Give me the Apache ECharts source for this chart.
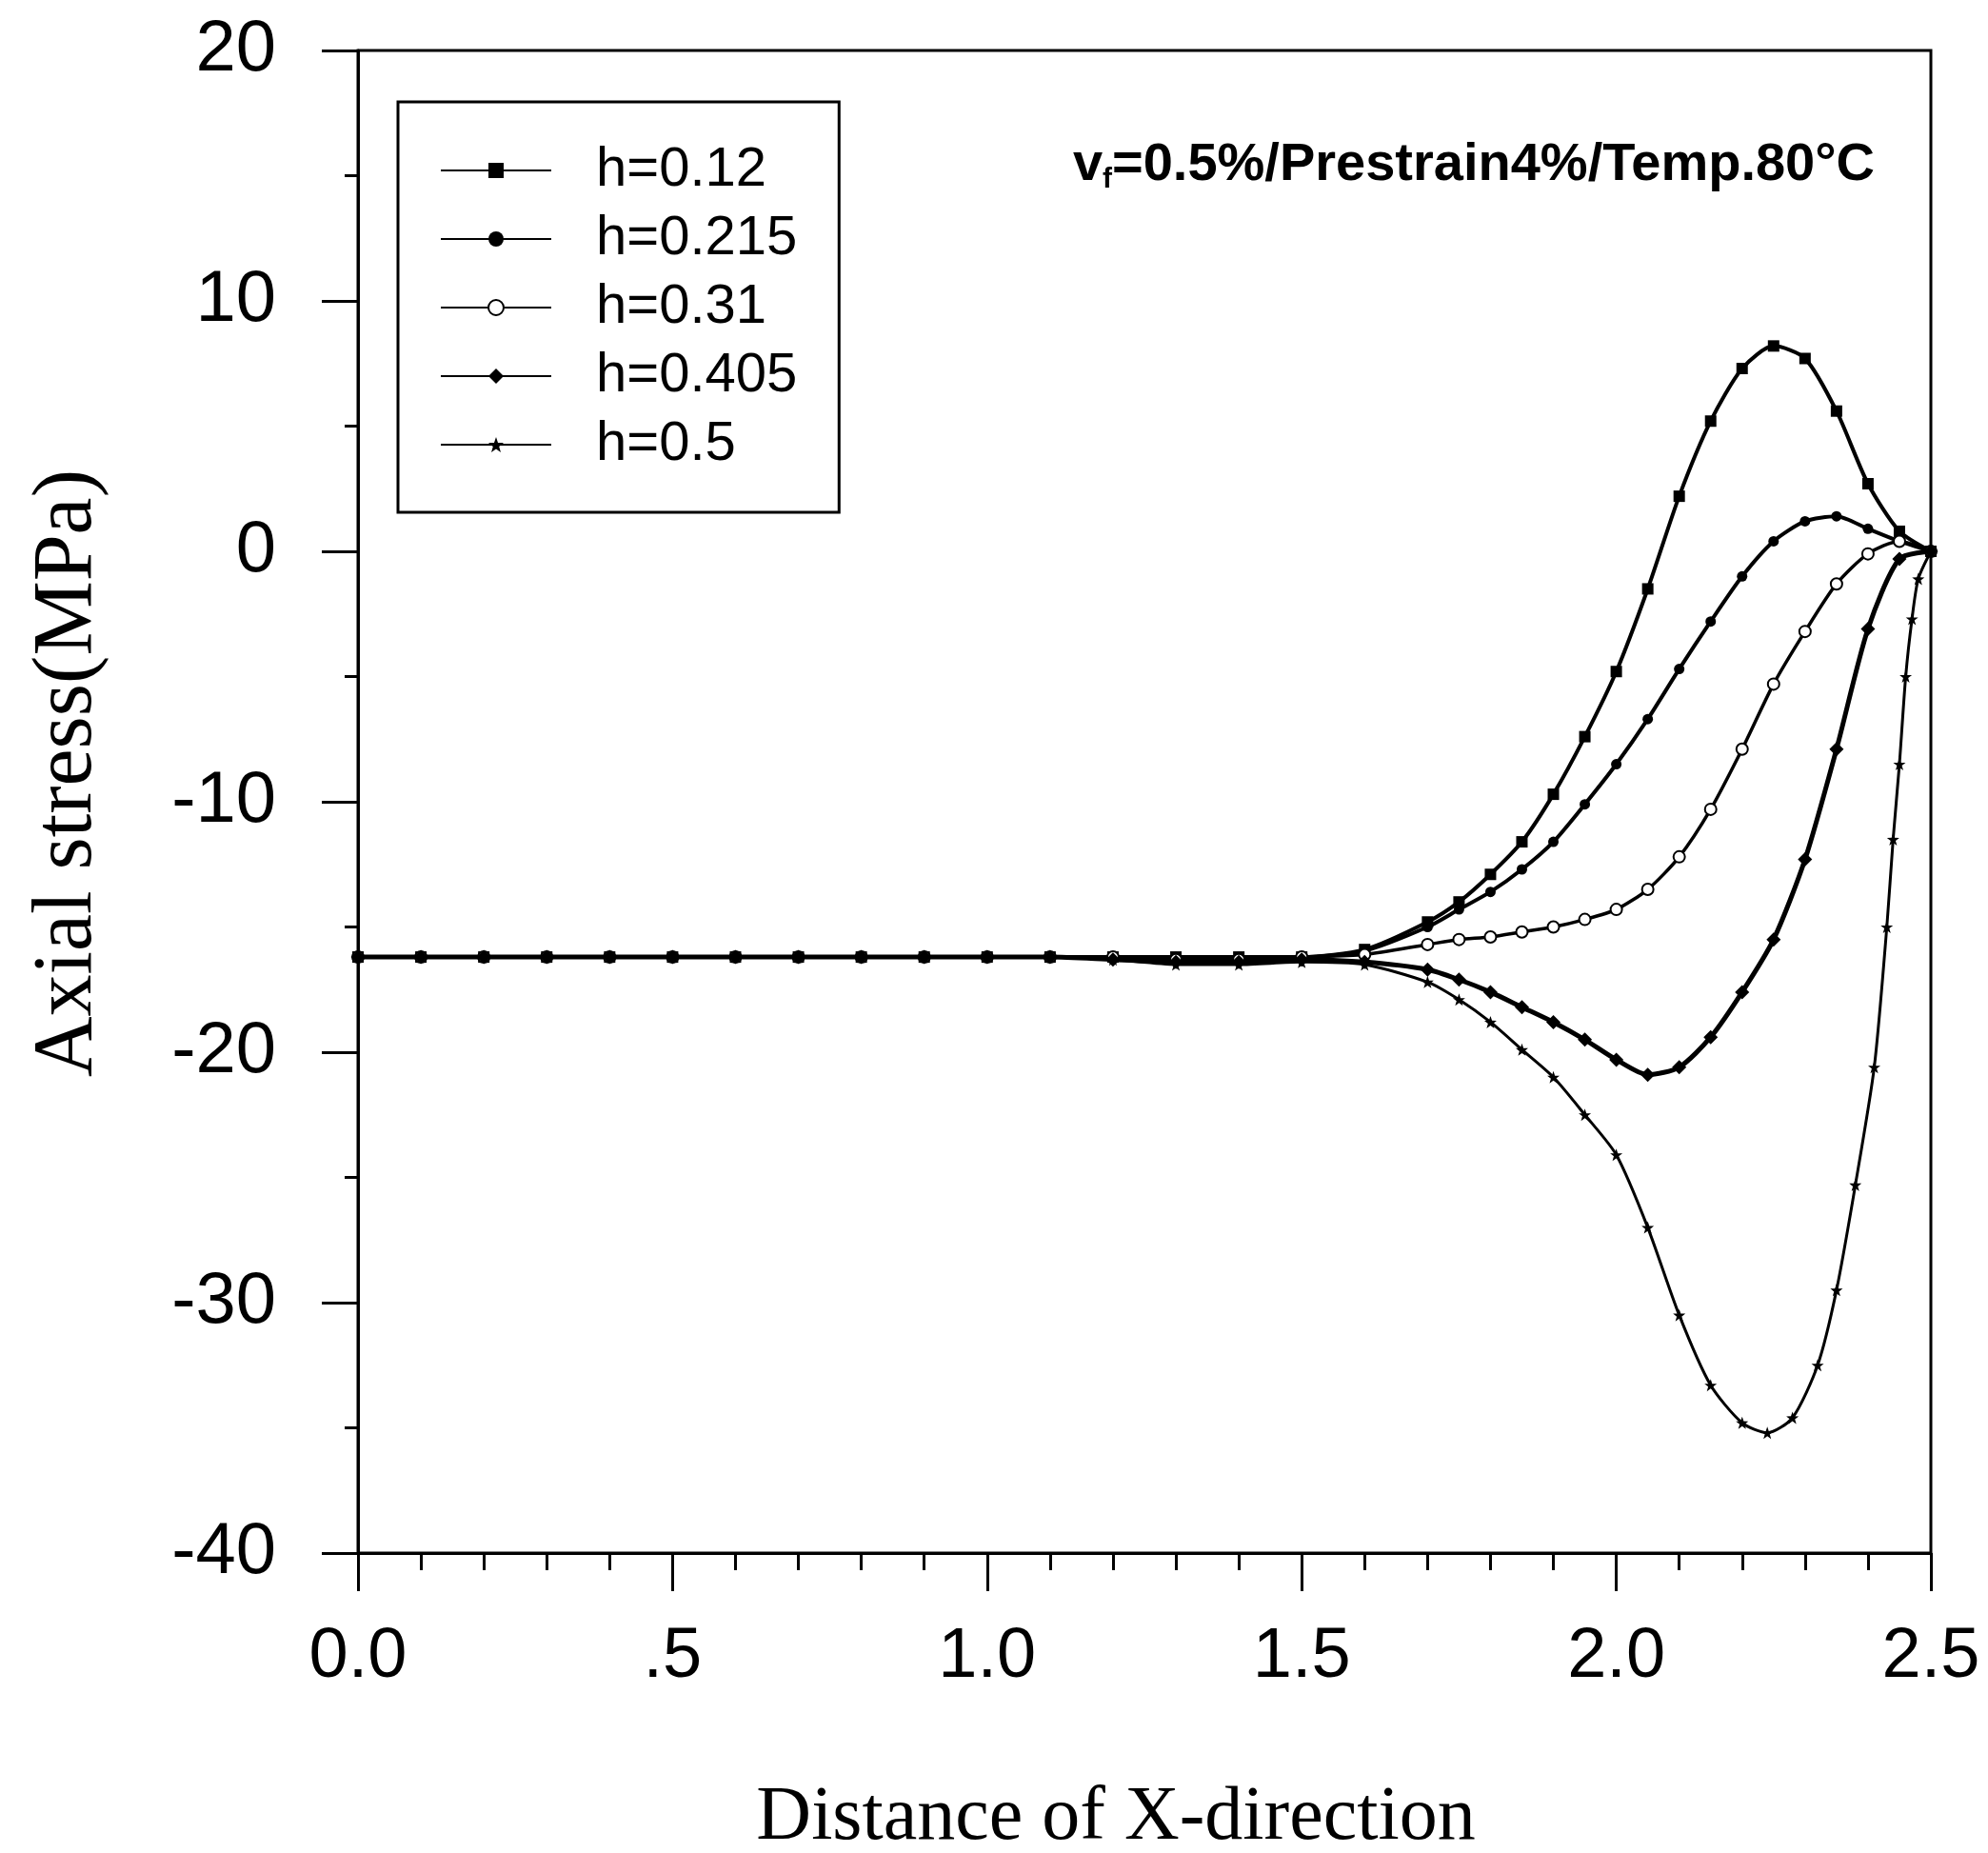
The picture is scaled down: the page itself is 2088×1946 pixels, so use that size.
<!DOCTYPE html>
<html>
<head>
<meta charset="utf-8">
<script src="https://cdn.jsdelivr.net/npm/echarts@6/dist/echarts.min.js"></script>
<style>
  html, body { margin: 0; padding: 0; background: #fff; }
  #chart { width: 2088px; height: 1946px; }
</style>
</head>
<body>
<div id="chart"></div>
<script>
// ---- data ----
const seriesNames = ['h=0.12', 'h=0.215', 'h=0.31', 'h=0.405', 'h=0.5'];

const xTickLabels = ['0.0', '.5', '1.0', '1.5', '2.0', '2.5'];
const yTickValues = [-40, -30, -20, -10, 0, 10, 20];

const xA = [0,0.1,0.2,0.3,0.4,0.5,0.6,0.7,0.8,0.9,1.0,1.1,1.2,1.3,1.4,1.5,1.6,1.7,1.75,1.8,1.85,1.9,1.95,2.0,2.05,2.1,2.15,2.2,2.25,2.3,2.35,2.4,2.45,2.5];
const yA = [-16.2,-16.2,-16.2,-16.2,-16.2,-16.2,-16.2,-16.2,-16.2,-16.2,-16.2,-16.2,-16.2,-16.2,-16.2,-16.2,-15.9,-14.8,-14.0,-12.9,-11.6,-9.7,-7.4,-4.8,-1.5,2.2,5.2,7.3,8.2,7.7,5.6,2.7,0.8,0];

const xB = [0,0.1,0.2,0.3,0.4,0.5,0.6,0.7,0.8,0.9,1.0,1.1,1.2,1.3,1.4,1.5,1.6,1.7,1.75,1.8,1.85,1.9,1.95,2.0,2.05,2.1,2.15,2.2,2.25,2.3,2.35,2.4,2.45,2.5];
const yB = [-16.2,-16.2,-16.2,-16.2,-16.2,-16.2,-16.2,-16.2,-16.2,-16.2,-16.2,-16.2,-16.2,-16.2,-16.2,-16.2,-15.95,-15.0,-14.3,-13.6,-12.7,-11.6,-10.1,-8.5,-6.7,-4.7,-2.8,-1.0,0.4,1.2,1.4,0.9,0.4,0];

const xC = [0,0.1,0.2,0.3,0.4,0.5,0.6,0.7,0.8,0.9,1.0,1.1,1.2,1.3,1.4,1.5,1.6,1.7,1.75,1.8,1.85,1.9,1.95,2.0,2.05,2.1,2.15,2.2,2.25,2.3,2.35,2.4,2.45,2.5];
const yC = [-16.2,-16.2,-16.2,-16.2,-16.2,-16.2,-16.2,-16.2,-16.2,-16.2,-16.2,-16.2,-16.2,-16.3,-16.3,-16.2,-16.1,-15.7,-15.5,-15.4,-15.2,-15.0,-14.7,-14.3,-13.5,-12.2,-10.3,-7.9,-5.3,-3.2,-1.3,-0.1,0.4,0];

const xD = [0,0.1,0.2,0.3,0.4,0.5,0.6,0.7,0.8,0.9,1.0,1.1,1.2,1.3,1.4,1.5,1.6,1.7,1.75,1.8,1.85,1.9,1.95,2.0,2.05,2.1,2.15,2.2,2.25,2.3,2.35,2.4,2.45,2.5];
const yD = [-16.2,-16.2,-16.2,-16.2,-16.2,-16.2,-16.2,-16.2,-16.2,-16.2,-16.2,-16.2,-16.3,-16.4,-16.4,-16.3,-16.4,-16.7,-17.1,-17.6,-18.2,-18.8,-19.5,-20.3,-20.9,-20.6,-19.4,-17.6,-15.5,-12.3,-7.9,-3.1,-0.3,0];

const xE = [0,0.1,0.2,0.3,0.4,0.5,0.6,0.7,0.8,0.9,1.0,1.1,1.2,1.3,1.4,1.5,1.6,1.7,1.75,1.8,1.85,1.9,1.95,2.0,2.05,2.1,2.15,2.2,2.24,2.28,2.32,2.35,2.38,2.41,2.43,2.44,2.45,2.46,2.47,2.48,2.5];
const yE = [-16.2,-16.2,-16.2,-16.2,-16.2,-16.2,-16.2,-16.2,-16.2,-16.2,-16.2,-16.2,-16.3,-16.5,-16.5,-16.4,-16.5,-17.2,-17.9,-18.8,-19.9,-21.0,-22.5,-24.1,-27.0,-30.5,-33.3,-34.8,-35.2,-34.6,-32.5,-29.5,-25.3,-20.6,-15.0,-11.5,-8.5,-5.0,-2.7,-1.1,0];

const annotationMain = '=0.5%/Prestrain4%/Temp.80°C';
// ---------------------------------------

function pairs(xs, ys) { return xs.map((x, i) => [x, ys[i]]); }

const starPath = 'path://M0,-10 L2.4,-3.2 L9.5,-3.1 L3.8,1.2 L5.9,8.1 L0,4 L-5.9,8.1 L-3.8,1.2 L-9.5,-3.1 L-2.4,-3.2 Z';

const chart = echarts.init(document.getElementById('chart'), null, { renderer: 'canvas' });

const lineCommon = { type: 'line', smooth: 0.25, color: '#000' };

const option = {
  backgroundColor: '#fff',
  animation: false,
  grid: {
    left: 376, right: 60, top: 53, bottom: 315,
    show: true, borderColor: '#000', borderWidth: 3, backgroundColor: 'transparent'
  },
  legend: {
    orient: 'vertical',
    left: 418, top: 107,
    padding: [43, 44, 42, 44],
    borderColor: '#000', borderWidth: 3,
    itemWidth: 116, itemHeight: 20, itemGap: 14,
    textStyle: { fontFamily: 'Liberation Sans', fontSize: 58, color: '#000', lineHeight: 58, padding: [0, 0, 0, 42] },
    data: seriesNames
  },
  xAxis: {
    type: 'value', min: 0, max: 2.5, interval: 0.5,
    axisLine: { show: true, onZero: false, lineStyle: { color: '#000', width: 3 } },
    axisTick: { show: true, inside: false, length: 40, lineStyle: { color: '#000', width: 3 } },
    minorTick: { show: true, splitNumber: 5, length: 18, lineStyle: { color: '#000', width: 3 } },
    splitLine: { show: false },
    axisLabel: {
      margin: 73, color: '#000', fontFamily: 'Liberation Sans', fontSize: 74,
      formatter: v => xTickLabels[Math.round(v / 0.5)]
    }
  },
  yAxis: {
    type: 'value', min: -40, max: 20, interval: 10,
    axisLine: { show: true, onZero: false, lineStyle: { color: '#000', width: 3 } },
    axisTick: { show: true, inside: false, length: 38, lineStyle: { color: '#000', width: 3 } },
    minorTick: { show: true, splitNumber: 2, length: 14, lineStyle: { color: '#000', width: 3 } },
    splitLine: { show: false },
    axisLabel: {
      margin: 86, color: '#000', fontFamily: 'Liberation Sans', fontSize: 76,
      formatter: v => (yTickValues.indexOf(v) >= 0 ? String(v) : '')
    }
  },
  graphic: [
    { type: 'text', left: 1127, top: 146, style: { text: 'v', font: 'bold 56px "Liberation Sans"', fill: '#000' } },
    { type: 'text', left: 1158, top: 174, style: { text: 'f', font: 'bold 30px "Liberation Sans"', fill: '#000' } },
    { type: 'text', left: 1168, top: 146, style: { text: annotationMain, font: 'bold 56px "Liberation Sans"', fill: '#000' } },
    { type: 'text', x: 72, y: 812, rotation: Math.PI / 2,
      style: { text: 'Axial stress(MPa)', font: '88px "Liberation Serif"', fill: '#000', align: 'center', verticalAlign: 'middle' } },
    { type: 'text', x: 1172, y: 1910,
      style: { text: 'Distance of X-direction', font: '80px "Liberation Serif"', fill: '#000', align: 'center', verticalAlign: 'middle' } }
  ],
  series: [
    Object.assign({}, lineCommon, { name: seriesNames[0], data: pairs(xA, yA), symbol: 'rect', symbolSize: 12,
      lineStyle: { color: '#000', width: 4 }, itemStyle: { color: '#000' } }),
    Object.assign({}, lineCommon, { name: seriesNames[1], data: pairs(xB, yB), symbol: 'circle', symbolSize: 11,
      lineStyle: { color: '#000', width: 4 }, itemStyle: { color: '#000' } }),
    Object.assign({}, lineCommon, { name: seriesNames[2], data: pairs(xC, yC), symbol: 'emptyCircle', symbolSize: 12,
      lineStyle: { color: '#000', width: 3.5 }, itemStyle: { color: '#000', borderWidth: 3 } }),
    Object.assign({}, lineCommon, { name: seriesNames[3], data: pairs(xD, yD), symbol: 'diamond', symbolSize: 15,
      lineStyle: { color: '#000', width: 5 }, itemStyle: { color: '#000' } }),
    Object.assign({}, lineCommon, { name: seriesNames[4], data: pairs(xE, yE), symbol: starPath, symbolSize: 13,
      lineStyle: { color: '#000', width: 3 }, itemStyle: { color: '#000' } })
  ]
};

chart.setOption(option);
</script>
</body>
</html>
